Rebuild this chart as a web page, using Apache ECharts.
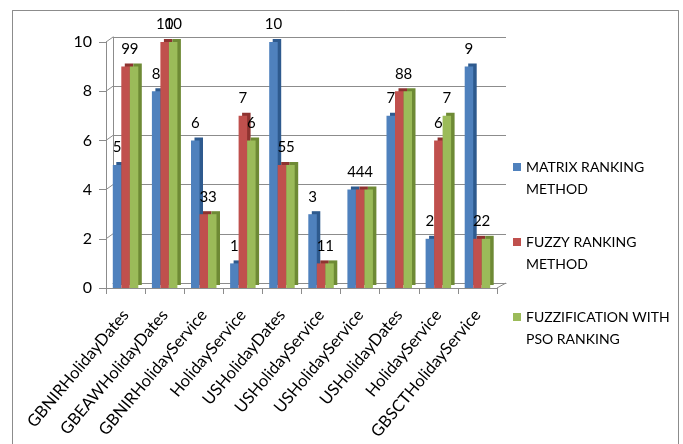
<!DOCTYPE html>
<html><head><meta charset="utf-8">
<script src="https://cdn.jsdelivr.net/npm/echarts@6/dist/echarts.min.js"></script>
<style>html,body{margin:0;padding:0;background:#fff}#c{width:683px;height:444px}</style>
</head><body><div id="c"></div>
<script>
var categories = ['GBNIRHolidayDates','GBEAWHolidayDates','GBNIRHolidayService','HolidayService','USHolidayDates','USHolidayService','USHolidayService','USHolidayDates','HolidayService','GBSCTHolidayService'];
var matrixRanking = [5, 8, 6, 1, 10, 3, 4, 7, 2, 9];
var fuzzyRanking  = [9, 10, 3, 7, 5, 1, 4, 8, 6, 2];
var psoRanking    = [9, 10, 3, 6, 5, 1, 4, 8, 7, 2];
var seriesNames = ['MATRIX RANKING\nMETHOD', 'FUZZY RANKING\nMETHOD', 'FUZZIFICATION WITH\nPSO RANKING'];
var yTicks = [0, 2, 4, 6, 8, 10];

var FONT = 'Lato';
var faces = ['#4F81BD', '#C0504D', '#9BBB59'];
var sides = ['#2E5A8E', '#8E3330', '#6E8A35'];
var values = [matrixRanking, fuzzyRanking, psoRanking];

var chart = echarts.init(document.getElementById('c'), null, {renderer: 'canvas'});
var series = values.map(function (v, i) {
  return {
    name: seriesNames[i], type: 'bar', xAxisIndex: 0, yAxisIndex: 0,
    data: v, barWidth: 8.5, barGap: '0%',
    itemStyle: {color: faces[i], shadowColor: sides[i], shadowBlur: 0, shadowOffsetX: 3.5, shadowOffsetY: -3},
    label: {show: true, position: 'top', distance: 10, color: '#000', fontFamily: FONT, fontSize: 15},
    emphasis: {disabled: true}
  };
});
var border = {type: 'rect', shape: {x: 12.5, y: 10.5, width: 666, height: 445}, style: {fill: 'none', stroke: '#8c8c8c', lineWidth: 1}, silent: true};
chart.setOption({
  animation: false,
  grid: [
    {left: 106, top: 42, width: 391, height: 246},
    {left: 113, top: 37, width: 393, height: 246}
  ],
  xAxis: [
    {type: 'category', gridIndex: 0, data: categories,
      axisLine: {lineStyle: {color: '#8c8c8c'}},
      axisTick: {show: true, length: 6, lineStyle: {color: '#8c8c8c'}},
      axisLabel: {rotate: 50, margin: 24, color: '#000', fontFamily: FONT, fontSize: 16.5, interval: 0}},
    {type: 'category', gridIndex: 1, data: categories,
      axisLine: {lineStyle: {color: '#8c8c8c'}}, axisTick: {show: false}, axisLabel: {show: false}}
  ],
  yAxis: [
    {type: 'value', gridIndex: 0, min: yTicks[0], max: yTicks[yTicks.length - 1], interval: 2,
      axisLine: {show: true, lineStyle: {color: '#8c8c8c'}},
      axisTick: {show: true, length: 7, lineStyle: {color: '#8c8c8c'}},
      splitLine: {show: false},
      axisLabel: {margin: 14, color: '#000', fontFamily: FONT, fontSize: 16}},
    {type: 'value', gridIndex: 1, min: yTicks[0], max: yTicks[yTicks.length - 1], interval: 2,
      axisLine: {show: true, lineStyle: {color: '#8c8c8c'}}, axisTick: {show: false}, axisLabel: {show: false},
      splitLine: {show: true, lineStyle: {color: '#8c8c8c', width: 1}}}
  ],
  legend: {
    orient: 'vertical', left: 513, top: 156, itemGap: 31, padding: 0,
    itemWidth: 8, itemHeight: 30,
    icon: 'path://M0,0L8,0L8,8L0,8Z M0,30L0.01,30',
    itemStyle: {borderWidth: 0, shadowBlur: 0, shadowOffsetX: 0, shadowOffsetY: 0, shadowColor: 'rgba(0,0,0,0)'},
    textStyle: {color: '#000', fontFamily: FONT, fontSize: 14, lineHeight: 22},
    data: seriesNames
  },
  graphic: [border],
  series: series
});
// depth lines joining the front axis to the back wall
var extra = [];
yTicks.forEach(function (t) {
  var a = chart.convertToPixel({yAxisIndex: 0}, t), b = chart.convertToPixel({yAxisIndex: 1}, t);
  extra.push({type: 'line', shape: {x1: 106, y1: a, x2: 113, y2: b}, style: {stroke: '#8c8c8c', lineWidth: 1}, silent: true});
});
extra.push({type: 'line', shape: {x1: 497, y1: 288, x2: 506, y2: 283}, style: {stroke: '#8c8c8c', lineWidth: 1}, silent: true});
chart.setOption({graphic: extra.concat([border])});
</script></body></html>
